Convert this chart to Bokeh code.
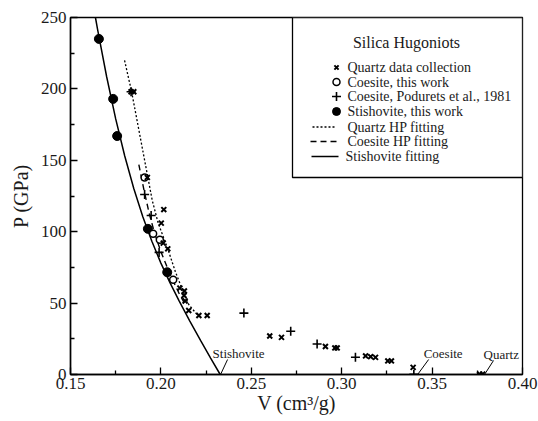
from bokeh.plotting import figure
from bokeh.models import Range1d, FixedTicker, PrintfTickFormatter
from bokeh.core.properties import value
from bokeh.embed import file_html
from bokeh.resources import INLINE

# ---------------- data ----------------
quartz_v = [0.1835, 0.1850, 0.1925, 0.2016, 0.2002, 0.2013, 0.2038, 0.2033, 0.2105,
            0.2130, 0.2128, 0.2134, 0.2154, 0.2210, 0.2256, 0.2602, 0.2667, 0.2910,
            0.2962, 0.2975, 0.3132, 0.3160, 0.3187, 0.3255, 0.3275, 0.3395, 0.3763, 0.3780]
quartz_p = [198, 198, 138, 115.5, 106, 92, 88, 71.5, 60.5,
            58.5, 55.3, 51.5, 44.8, 41.3, 41.3, 27, 26, 19.6,
            18.6, 18.6, 13, 12.5, 12, 9.5, 9.5, 5, 0.3, 0.3]

coesite_v = [0.1910, 0.1957, 0.1994, 0.2068]
coesite_p = [138, 98.5, 94.3, 66.3]

podurets_v = [0.1835, 0.1910, 0.1946, 0.1990, 0.2459, 0.2718, 0.2864, 0.3076, 0.3399]
podurets_p = [198, 126, 111.3, 85.5, 43, 30.3, 21.4, 12.1, 0.2]

stish_v = [0.1657, 0.1736, 0.1758, 0.1928, 0.2035]
stish_p = [235, 193, 167, 102, 71.6]

quartz_fit_v = [0.1799, 0.1838, 0.1880, 0.1925, 0.1952, 0.1985, 0.2038, 0.2080, 0.2120, 0.2154, 0.2200]
quartz_fit_p = [220, 198, 170, 140, 122, 106, 88, 72, 59, 49, 42]

coesite_fit_v = [0.1878, 0.1905, 0.1935, 0.1965, 0.2000, 0.2035, 0.2070, 0.2100, 0.2130]
coesite_fit_p = [147, 130, 113, 99, 86, 75, 65, 57, 50]

stish_fit_v = [0.1638, 0.1650, 0.1700, 0.1750, 0.1800, 0.1850, 0.1900, 0.1950, 0.2000,
               0.2050, 0.2100, 0.2160, 0.2220, 0.2275, 0.2328]
stish_fit_p = [250, 241.5, 208.5, 179.0, 153.0, 130.3, 110.5, 93.3, 78.0,
               64.3, 51.7, 37.4, 23.7, 11.5, 0]

x_ticks = [0.15, 0.20, 0.25, 0.30, 0.35, 0.40]
x_minor = [0.175, 0.225, 0.275, 0.325, 0.375]
y_ticks = [0, 50, 100, 150, 200, 250]
y_minor = [25, 75, 125, 175, 225]

legend_title = "Silica Hugoniots"
legend_labels = ["Quartz data collection", "Coesite, this work",
                 "Coesite, Podurets et al., 1981", "Stishovite, this work",
                 "Quartz HP fitting", "Coesite HP fitting", "Stishovite fitting"]

phase_names = ["Stishovite", "Coesite", "Quartz"]
phase_v0 = [0.2330, 0.3420, 0.3790]

# ---------------- layout helpers (pixel -> data) ----------------
X0, X1, Y0, Y1 = 0.15, 0.40, 0, 250
W, H = 538, 421
FL, FR, FT, FB = 70, 522, 17, 374  # frame in page pixels


def X(px):
    return X0 + (px - FL) * (X1 - X0) / (FR - FL)


def Y(py):
    return Y0 + (FB - py) * (Y1 - Y0) / (FB - FT)


def DX(dpx):
    return dpx * (X1 - X0) / (FR - FL)


def DY(dpy):
    return dpy * (Y1 - Y0) / (FB - FT)


FONT = "Liberation Serif"
INK = "#1a1a1a"

p = figure(width=W, height=H, output_backend="svg", toolbar_location=None,
           x_range=Range1d(X0, X1), y_range=Range1d(Y0, Y1),
           min_border_left=FL, min_border_right=W - FR, min_border_top=FT,
           min_border_bottom=H - FB)
p.xgrid.visible = False
p.ygrid.visible = False
p.outline_line_color = "black"
p.outline_line_width = 1.3
p.background_fill_color = "white"

for ax, ticks, minor in ((p.xaxis, x_ticks, x_minor), (p.yaxis, y_ticks, y_minor)):
    ax.ticker = FixedTicker(ticks=ticks, minor_ticks=minor)
    ax.major_tick_in = 7
    ax.major_tick_out = 0
    ax.minor_tick_in = 4
    ax.minor_tick_out = 0
    ax.axis_line_width = 1.5
    ax.major_tick_line_width = 1.3
    ax.minor_tick_line_width = 1.3
    ax.major_label_text_font = FONT
    ax.major_label_text_font_size = "17px"
    ax.major_label_text_color = INK
    ax.axis_label_text_font = FONT
    ax.axis_label_text_font_size = "20px"
    ax.axis_label_text_font_style = "normal"
    ax.axis_label_text_color = INK

p.xaxis.formatter = PrintfTickFormatter(format="%.2f")
p.xaxis.major_label_standoff = 3
p.xaxis.axis_label = "V (cm³/g)"
p.xaxis.axis_label_standoff = 0
p.yaxis.major_label_standoff = 4
p.yaxis.axis_label = "P (GPa)"
p.yaxis.axis_label_standoff = 6

# ---------------- fitted curves ----------------
p.line(stish_fit_v, stish_fit_p, line_color="black", line_width=1.5)
p.line(quartz_fit_v, quartz_fit_p, line_color="black", line_width=1.3, line_dash="2 2")
p.line(coesite_fit_v, coesite_fit_p, line_color="black", line_width=1.4, line_dash="6 4")

# ---------------- data points ----------------
p.scatter(stish_v, stish_p, marker="circle", size=9, fill_color="black", line_color="black")
p.scatter(coesite_v, coesite_p, marker="circle", size=7, fill_color="white", line_color="black",
          line_width=1.5)
p.scatter(podurets_v, podurets_p, marker="cross", size=9, line_color="black", line_width=1.6)
p.scatter(quartz_v, quartz_p, marker="x", size=7, line_color="black", line_width=2)

# ---------------- zero-pressure labels with arrows ----------------
txt_dx = [-15, -5, -10]   # text left relative to arrow tail (px)
tail_dx = [7, 11, 9]
tail_dy = [15, 15, 14]
for name, v0, tdx, adx, ady in zip(phase_names, phase_v0, txt_dx, tail_dx, tail_dy):
    tv, tp = v0 + DX(adx), DY(ady)
    p.segment(x0=[v0], y0=[0], x1=[tv], y1=[tp], line_color="black", line_width=1)
    p.text(x=[tv + DX(tdx)], y=[tp + DY(6)], text=[name], text_font=value(FONT),
           text_font_size="13px", text_baseline="middle", text_align="left", text_color=INK)

# ---------------- legend box ----------------
p.quad(left=[X(292)], right=[X1], bottom=[Y(177)], top=[Y1], fill_color="white",
       line_color="black", line_width=1.3)
p.text(x=[X(406)], y=[Y(42)], text=[legend_title], text_font=value(FONT),
       text_font_size="16px", text_align="center", text_baseline="middle", text_color=INK)
rows = [67, 81.5, 96, 111, 126.5, 141, 156]
mk = [("x", 6, None, 2), ("circle", 7, "white", 1.5), ("cross", 9, None, 1.6),
      ("circle", 8, "black", 1)]
for i, (m, s, fc, lw) in enumerate(mk):
    p.scatter([X(336)], [Y(rows[i])], marker=m, size=s, fill_color=fc, line_color="black",
              line_width=lw)
dashes = ["2 2", "6 4", "solid"]
lx = [(312, 335), (310, 338), (311, 338)]
for j, (d, (a, b)) in enumerate(zip(dashes, lx)):
    r = rows[4 + j]
    p.line([X(a), X(b)], [Y(r), Y(r)], line_color="black", line_width=1.3 if j < 2 else 1.5,
           line_dash=d)
text_x = [347, 347, 347, 347, 347, 347, 345]
p.text(x=[X(t) for t in text_x], y=[Y(r) for r in rows], text=legend_labels,
       text_font=value(FONT), text_font_size="14px", text_align="left", text_baseline="middle",
       text_color=INK)

open("out.html", "w").write(file_html(p, INLINE))
